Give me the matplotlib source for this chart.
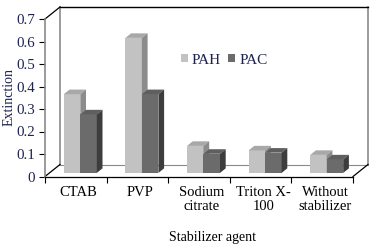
import matplotlib
matplotlib.use("Agg")
import matplotlib.pyplot as plt
import numpy as np
from matplotlib.patches import Polygon, Patch

categories = ["CTAB", "PVP", "Sodium\ncitrate", "Triton X-\n100", "Without\nstabilizer"]
pah = [0.35, 0.60, 0.12, 0.10, 0.08]
pac = [0.26, 0.35, 0.085, 0.09, 0.06]
yticks = [0, 0.1, 0.2, 0.3, 0.4, 0.5, 0.6, 0.7]
ytick_labels = ["0", "0.1", "0.2", "0.3", "0.4", "0.5", "0.6", "0.7"]

plt.rcParams["font.family"] = ["Liberation Serif", "DejaVu Serif"]
TXT = "#1c2250"

# pixel geometry of the fake 3D box
W, H = 374, 247
X0, PX_CAT = 45, 61.6       # x pixel of the front-left corner, px per category
Y0, PX_UNIT = 176.5, 225.0  # y pixel of value 0, px per 1.0 of value
L, R, T, B = 40, 373, 3, 182
DX, DY = 15 / PX_CAT, 12 / PX_UNIT   # full depth offset in data units
F0, FD = 0.3, 0.38                    # bar front depth, bar depth (fractions)
BW = 16.5 / PX_CAT
YMAX = 0.7

fig = plt.figure(figsize=(W / 100, H / 100), dpi=100)
ax = fig.add_axes([L / W, 1 - B / H, (R - L) / W, (B - T) / H])
ax.set_xlim((L - X0) / PX_CAT, (R - X0) / PX_CAT)
ax.set_ylim((Y0 - B) / PX_UNIT, (Y0 - T) / PX_UNIT)
n = len(categories)

# box outline
gray = "#8a8a8a"
ax.plot([DX, DX], [DY, YMAX + DY], color=gray, lw=1.2, clip_on=False)
ax.plot([n + DX, n + DX], [DY, YMAX + DY], color=gray, lw=1.2, clip_on=False)
ax.plot([DX, n + DX], [DY, DY], color=gray, lw=0.8, clip_on=False)
ax.plot([DX, n + DX], [YMAX + DY, YMAX + DY], color="black", lw=1.0, clip_on=False)
ax.plot([0, DX], [YMAX, YMAX + DY], color="black", lw=0.9, clip_on=False)
ax.plot([0, DX], [0, DY], color="black", lw=0.9, clip_on=False)
ax.plot([n, n + DX], [0, DY], color="black", lw=0.9, clip_on=False)

# bars with fake depth
sx, sy = DX * F0, DY * F0
dx, dy = DX * FD, DY * FD
styles = [("#c2c2c2", "#a8a8a8", "#8c8c8c"), ("#6b6b6b", "#5f5f5f", "#3d3d3d")]
z = 3
for i in range(n):
    c = i + 0.5
    for j, vals in enumerate([pah, pac]):
        front, top, side = styles[j]
        x0 = c - BW + j * BW + sx
        x1 = x0 + BW
        y0 = sy
        y1 = sy + vals[i]
        ax.bar(x0, vals[i], width=BW, bottom=y0, align="edge",
               color=front, lw=0, zorder=z)
        ax.add_patch(Polygon([(x0, y1), (x1, y1), (x1 + dx, y1 + dy), (x0 + dx, y1 + dy)],
                             closed=True, fc=top, lw=0, zorder=z))
        ax.add_patch(Polygon([(x1, y0), (x1 + dx, y0 + dy), (x1 + dx, y1 + dy), (x1, y1)],
                             closed=True, fc=side, lw=0, zorder=z))
        z += 1

# axes
for s in ["top", "right"]:
    ax.spines[s].set_visible(False)
ax.spines["left"].set_position(("data", 0))
ax.spines["left"].set_bounds(0, YMAX)
ax.spines["left"].set_color(gray)
ax.spines["left"].set_linewidth(1.2)
ax.spines["bottom"].set_position(("data", 0))
ax.spines["bottom"].set_bounds(0, n)
ax.spines["bottom"].set_color("black")
ax.spines["bottom"].set_linewidth(0.9)

ax.set_yticks(yticks)
ax.set_yticklabels(ytick_labels, fontsize=10.8, color=TXT)
ax.tick_params(axis="y", direction="out", length=4, width=0.8, color="black", pad=3)

ax.set_xticks(np.arange(n + 1))
ax.set_xticklabels([""] * (n + 1))
ax.tick_params(axis="x", which="major", direction="out", length=4, width=0.8, color="black")
ax.set_xticks(np.arange(n) + 0.5 + 3 / PX_CAT, minor=True)
ax.set_xticklabels(categories, minor=True, fontsize=10.5, color="black", linespacing=1.12)
ax.tick_params(axis="x", which="minor", length=0, pad=7)

fig.text(9 / W, 1 - 97 / H, "Extinction", rotation=90, ha="center", va="center",
         fontsize=10, color=TXT)
fig.text(213 / W, 1 - 237 / H, "Stabilizer agent", ha="center", va="center",
         fontsize=10, color="black")

handles = [Patch(fc=styles[0][0], lw=0), Patch(fc=styles[1][0], lw=0)]
fig.legend(handles, ["PAH", "PAC"], loc="center left", bbox_to_anchor=(181 / W, 1 - 60 / H),
           ncol=2, frameon=False, fontsize=11, handlelength=0.45, handleheight=0.45,
           handletextpad=0.25, columnspacing=0.5, labelcolor=TXT,
           borderpad=0, borderaxespad=0)

fig.savefig("out.png", dpi=100)
